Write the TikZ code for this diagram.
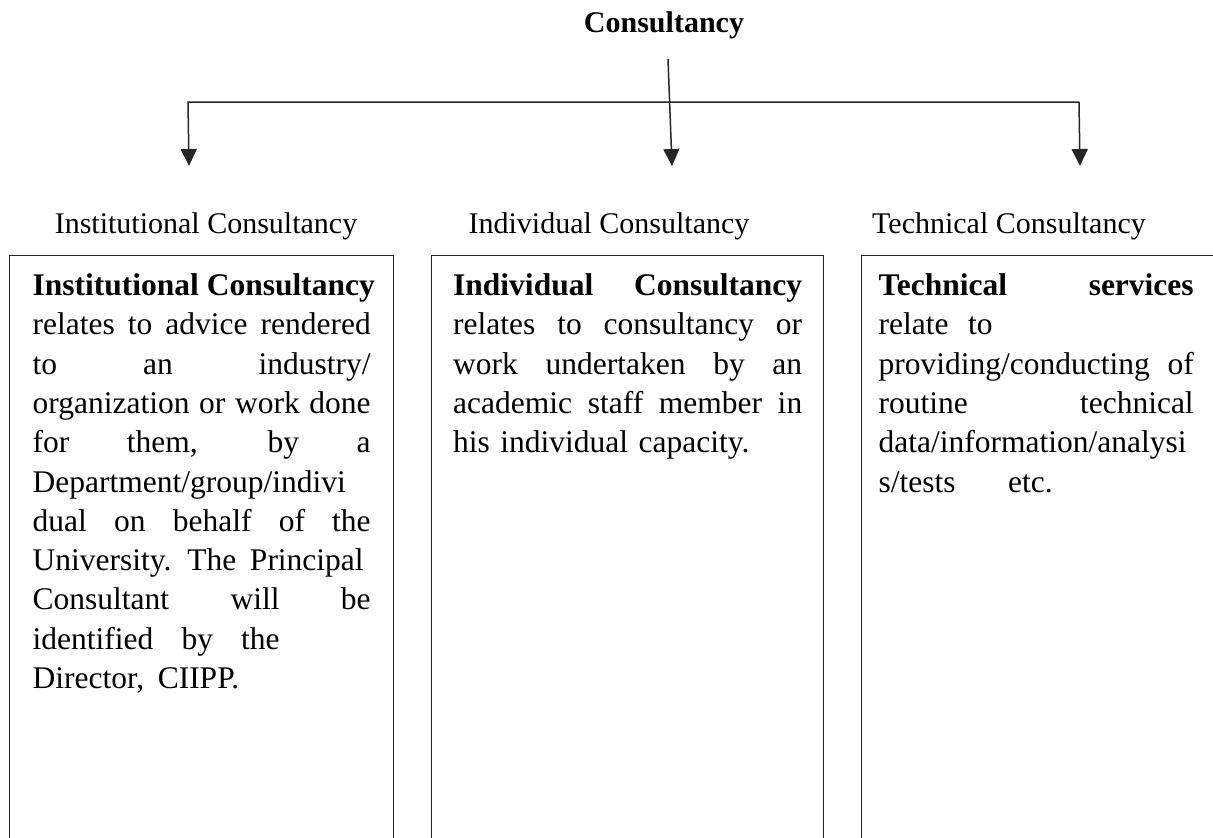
\documentclass[tikz,border=0pt]{standalone}
\usepackage{fontspec}
\setmainfont{Liberation Serif}
\usetikzlibrary{arrows.meta, positioning}
\newcommand{\jline}[2][\hsize]{\makebox[#1][s]{\spaceskip=.25em plus 1fil\relax #2}}

\begin{document}
\begin{tikzpicture}[x=1pt, y=-1pt,
  conn/.style={line width=1.5pt, draw=black!85},
  tip/.style={conn, -{Triangle[length=17pt, width=16pt]}},
  head/.style={font=\fontsize{30}{36}\selectfont, inner sep=0pt, anchor=base},
  descbox/.style={draw=black!85, line width=1.4pt, anchor=north west, align=left,
    inner ysep=18pt, text depth=560pt, font=\fontsize{31.5}{39.3}\selectfont}]
\useasboundingbox (0,0) rectangle (1213,838);
\clip (0,0) rectangle (1213,838);

\node [head, font=\fontsize{30}{36}\selectfont\bfseries] (root) at (664,32) {Consultancy};

\coordinate (stem) at (668,59);
\coordinate (barL) at (188,102);
\coordinate (barR) at (1079,102);
\coordinate (tipL) at (189,166);
\coordinate (tipM) at (672,166);
\coordinate (tipR) at (1080,166);

\draw [tip] (stem) -- (tipM);
\draw [tip] (barR) -- (barL) -- (tipL);
\draw [tip] (barR) -- (tipR);

\node [head] (instlabel) at (206,233) {Institutional Consultancy};
\node [head] (indlabel) at (609,233) {Individual Consultancy};
\node [head] (techlabel) at (1009,233) {Technical Consultancy};

\node [descbox, text width=338pt, inner xsep=23pt] (instbody) at (9,255) {%
\jline{\textbf{Institutional Consultancy}}\\
\jline{relates to advice rendered}\\
\jline{to an industry/}\\
\jline{organization or work done}\\
\jline{for them, by a}\\
Department/group/indivi\\
\jline{dual on behalf of the}\\
\jline[331pt]{University. The Principal}\\
\jline{Consultant will be}\\
\jline[247pt]{identified by the}\\
Director,\hspace{3pt} CIIPP.};

\node [descbox, text width=349pt, inner xsep=21.5pt] (indbody) at (431,255) {%
\jline{\textbf{Individual Consultancy}}\\
\jline{relates to consultancy or}\\
\jline{work undertaken by an}\\
\jline{academic staff member in}\\
his individual capacity.};

\node [descbox, text width=340pt, inner xsep=17pt] (techbody) at (861,255) {%
\jline[315pt]{\textbf{Technical services}}\\
\jline[114pt]{relate to}\\
\jline[315pt]{providing/conducting of}\\
\jline[315pt]{routine technical}\\
data/information/analysi\\
\jline[174pt]{s/tests etc.}};
\end{tikzpicture}
\end{document}
